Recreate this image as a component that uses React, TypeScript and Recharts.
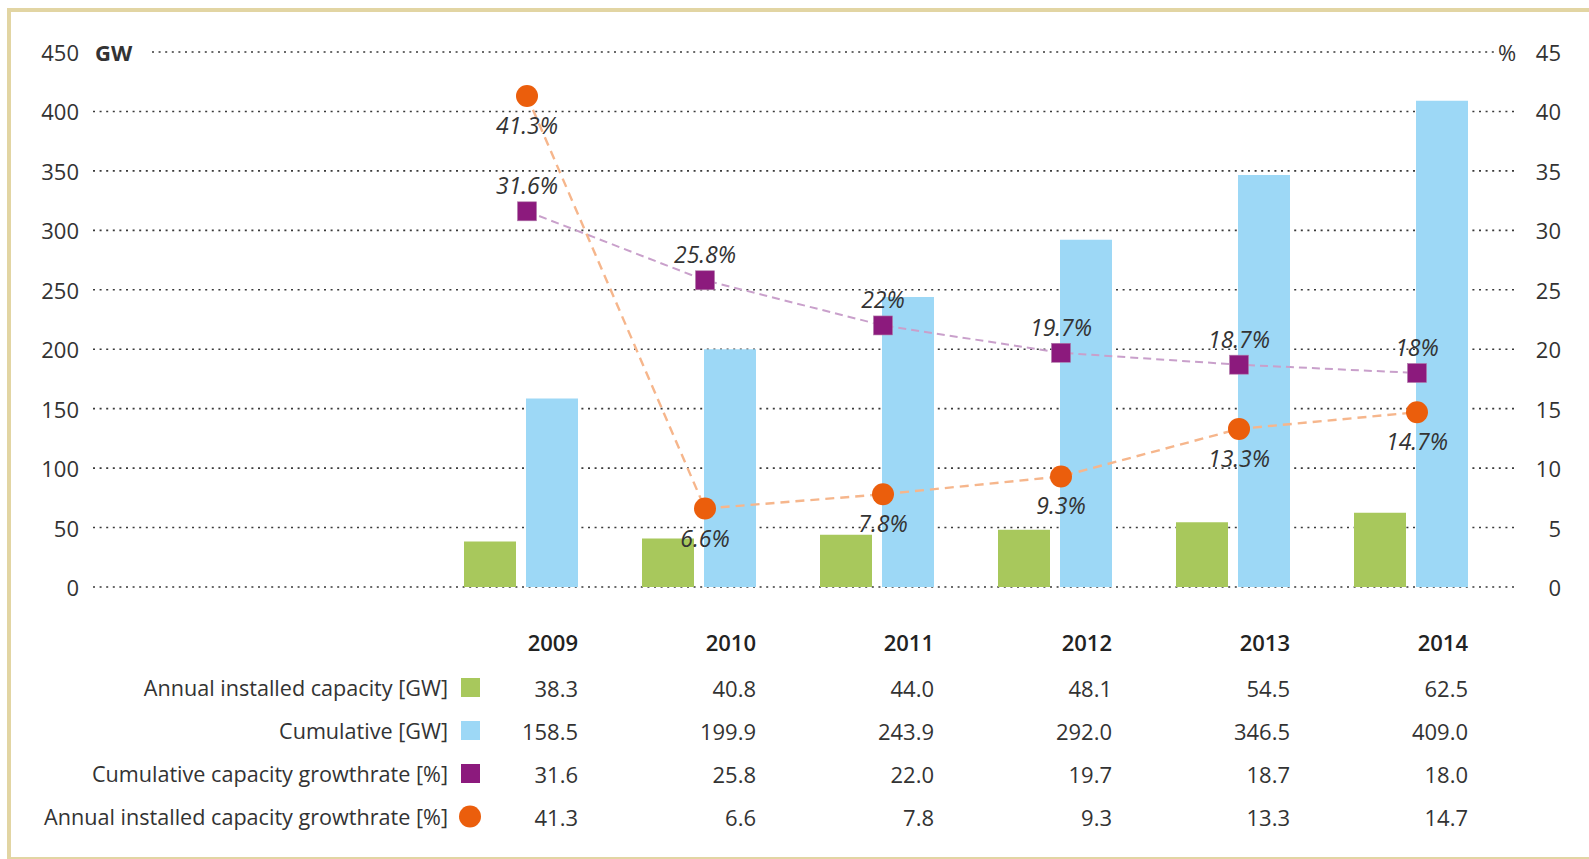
import React from "react";
import {
  ComposedChart,
  Bar,
  Line,
  XAxis,
  YAxis,
  CartesianGrid,
  LabelList,
} from "recharts";

// ---------- data ----------
const years = ["2009", "2010", "2011", "2012", "2013", "2014"];
const annualGW = [38.3, 40.8, 44.0, 48.1, 54.5, 62.5];
const cumulativeGW = [158.5, 199.9, 243.9, 292.0, 346.5, 409.0];
const cumGrowth = [31.6, 25.8, 22.0, 19.7, 18.7, 18.0];
const annualGrowth = [41.3, 6.6, 7.8, 9.3, 13.3, 14.7];
const blankCategories = ["blank-a", "blank-b"];
const leftTicks = [0, 50, 100, 150, 200, 250, 300, 350, 400, 450];
const rightTicks = [0, 5, 10, 15, 20, 25, 30, 35, 40, 45];
const rowLabels = [
  "Annual installed capacity [GW]",
  "Cumulative [GW]",
  "Cumulative capacity growthrate [%]",
  "Annual installed capacity growthrate [%]",
];

// ---------- styling ----------
const FONT = "'Open Sans', 'Noto Sans', sans-serif";
const TXT = "#333333";
const GREEN = "#a8c85c";
const BLUE = "#9dd8f6";
const PURPLE = "#8c1a7d";
const ORANGE = "#eb5e0c";
const PURPLE_LINE = "#c9a0cb";
const ORANGE_LINE = "#f6b68c";
const BORDER = "#e2d5a3";

type Row = {
  cat: string;
  idx: number;
  year: string | null;
  annual: number | null;
  cumulative: number | null;
  cumGrowth: number | null;
  annualGrowth: number | null;
};

const data: Row[] = [
  ...blankCategories.map((c, i) => ({
    cat: c,
    idx: i,
    year: null,
    annual: null,
    cumulative: null,
    cumGrowth: null,
    annualGrowth: null,
  })),
  ...years.map((y, i) => ({
    cat: y,
    idx: i + blankCategories.length,
    year: y,
    annual: annualGW[i],
    cumulative: cumulativeGW[i],
    cumGrowth: cumGrowth[i],
    annualGrowth: annualGrowth[i],
  })),
];

const nCats = data.length;
const pointShift = 6 / 178; // markers sit slightly right of the group centre

const fmtPct = (v: number) => `${+v.toFixed(1)}%`;

const LeftTick = (props: any) => {
  const { x, y, payload } = props;
  return (
    <g>
      <text x={x + 3} y={y} textAnchor="end" dominantBaseline="central" fontFamily={FONT} fontSize={22} fill={TXT}>
        {payload.value}
      </text>
      {payload.value === 450 && (
        <text x={x + 19} y={y} textAnchor="start" dominantBaseline="central" fontFamily={FONT} fontSize={22} fontWeight={700} fill={TXT}>
          GW
        </text>
      )}
    </g>
  );
};

const RightTick = (props: any) => {
  const { x, y, payload } = props;
  return (
    <g>
      <text x={x + 61} y={y} textAnchor="end" dominantBaseline="central" fontFamily={FONT} fontSize={22} fill={TXT}>
        {payload.value}
      </text>
      {payload.value === 45 && (
        <text x={x - 2} y={y} textAnchor="start" dominantBaseline="central" fontFamily={FONT} fontSize={22} fill={TXT}>
          %
        </text>
      )}
    </g>
  );
};

const TableTick = (props: any) => {
  const { x, y, payload } = props;
  const row = data.find((d) => d.cat === payload.value);
  if (!row || row.year == null) return <g />;
  const rx = x + 57;
  const vals = [row.annual, row.cumulative, row.cumGrowth, row.annualGrowth];
  const offs = [100.5, 143.5, 186.5, 229.5];
  return (
    <g fontFamily={FONT} fontSize={22} fill={TXT}>
      <text x={rx} y={y + 55} textAnchor="end" dominantBaseline="central" fontWeight={600} fill="#222">
        {row.year}
      </text>
      {vals.map((v, i) => (
        <text key={i} x={rx} y={y + offs[i]} textAnchor="end" dominantBaseline="central">
          {(v as number).toFixed(1)}
        </text>
      ))}
    </g>
  );
};

const GridLine = (props: any) => {
  const { x1, x2, y1, y2, index } = props;
  const isTop = y1 < 60;
  const sx = isTop ? x1 + 76 : x1 + 17;
  const ex = isTop ? x2 - 3 : x2 + 17;
  return (
    <line
      key={`grid-${index}`}
      x1={sx}
      x2={ex}
      y1={y1}
      y2={y2}
      stroke="#3a3a3a"
      strokeWidth={1.6}
      strokeDasharray="2 4.6"
    />
  );
};

const SquareDot = (p: any) => {
  if (p.cy == null || p.value == null) return <g key={`sq-${p.index}`} />;
  return <rect key={`sq-${p.index}`} x={p.cx - 9.5} y={p.cy - 9.5} width={19} height={19} fill={PURPLE} stroke="#b07aa9" strokeWidth={0.6} />;
};

const CircleDot = (p: any) => {
  if (p.cy == null || p.value == null) return <g key={`ci-${p.index}`} />;
  return <circle key={`ci-${p.index}`} cx={p.cx} cy={p.cy} r={11} fill={ORANGE} />;
};

const AboveLabel = (p: any) => {
  if (p.value == null) return null;
  return (
    <text x={p.x} y={p.y - 26} textAnchor="middle" dominantBaseline="central" fontFamily={FONT} fontStyle="italic" fontSize={23} fill={TXT}>
      {fmtPct(p.value)}
    </text>
  );
};

const BelowLabel = (p: any) => {
  if (p.value == null) return null;
  return (
    <text x={p.x} y={p.y + 29} textAnchor="middle" dominantBaseline="central" fontFamily={FONT} fontStyle="italic" fontSize={23} fill={TXT}>
      {fmtPct(p.value)}
    </text>
  );
};

const legendRowsY = [687.5, 730.5, 773.5, 816.5];

export default function App() {
  return (
    <div style={{ position: "absolute", left: 0, top: 0, width: 1589, height: 859, background: "#fff", overflow: "hidden" }}>
      <div
        style={{
          position: "absolute",
          left: 7,
          top: 8,
          width: 1620,
          height: 845,
          borderTop: `4px solid ${BORDER}`,
          borderLeft: `4px solid ${BORDER}`,
          borderBottom: `4px solid ${BORDER}`,
        }}
      />
      <div style={{ position: "absolute", left: 0, top: 0 }}>
        <ComposedChart
          width={1589}
          height={859}
          data={data}
          margin={{ top: 52, right: 29, bottom: 12, left: 16 }}
          barGap={10}
        >
          <CartesianGrid yAxisId="left" xAxisId="cat" vertical={false} horizontal={GridLine} />
          <XAxis
            xAxisId="cat"
            dataKey="cat"
            type="category"
            interval={0}
            height={260}
            axisLine={false}
            tickLine={false}
            tickSize={0}
            tickMargin={0}
            tick={TableTick}
          />
          <XAxis
            xAxisId="pt"
            dataKey="idx"
            type="number"
            hide
            domain={[-0.5 - pointShift, nCats - 0.5 - pointShift]}
            allowDataOverflow
          />
          <YAxis
            yAxisId="left"
            orientation="left"
            width={60}
            domain={[0, 450]}
            ticks={leftTicks}
            axisLine={false}
            tickLine={false}
            tickSize={0}
            tickMargin={0}
            tick={LeftTick}
          />
          <YAxis
            yAxisId="right"
            orientation="right"
            width={60}
            domain={[0, 45]}
            ticks={rightTicks}
            axisLine={false}
            tickLine={false}
            tickSize={0}
            tickMargin={0}
            tick={RightTick}
          />
          <Bar xAxisId="cat" yAxisId="left" dataKey="annual" fill={GREEN} barSize={52} isAnimationActive={false} />
          <Bar xAxisId="cat" yAxisId="left" dataKey="cumulative" fill={BLUE} barSize={52} isAnimationActive={false} />
          <Line
            xAxisId="pt"
            yAxisId="right"
            dataKey="cumGrowth"
            stroke={PURPLE_LINE}
            strokeWidth={2}
            strokeDasharray="8 5"
            dot={SquareDot}
            activeDot={false}
            isAnimationActive={false}
          >
            <LabelList dataKey="cumGrowth" content={AboveLabel} />
          </Line>
          <Line
            xAxisId="pt"
            yAxisId="right"
            dataKey="annualGrowth"
            stroke={ORANGE_LINE}
            strokeWidth={2.4}
            strokeDasharray="9 6"
            dot={CircleDot}
            activeDot={false}
            isAnimationActive={false}
          >
            <LabelList dataKey="annualGrowth" content={BelowLabel} />
          </Line>
        </ComposedChart>
      </div>
      <svg width={1589} height={859} style={{ position: "absolute", left: 0, top: 0, pointerEvents: "none" }}>
        {rowLabels.map((label, i) => (
          <g key={label}>
            <text x={448} y={legendRowsY[i]} textAnchor="end" dominantBaseline="central" fontFamily={FONT} fontSize={21.6} fill={TXT}>
              {label}
            </text>
            {i === 0 && <rect x={461} y={legendRowsY[i] - 9.5} width={19} height={19} fill={GREEN} />}
            {i === 1 && <rect x={461} y={legendRowsY[i] - 9.5} width={19} height={19} fill={BLUE} />}
            {i === 2 && <rect x={461} y={legendRowsY[i] - 9.5} width={19} height={19} fill={PURPLE} />}
            {i === 3 && <circle cx={470} cy={legendRowsY[i]} r={11} fill={ORANGE} />}
          </g>
        ))}
      </svg>
    </div>
  );
}
